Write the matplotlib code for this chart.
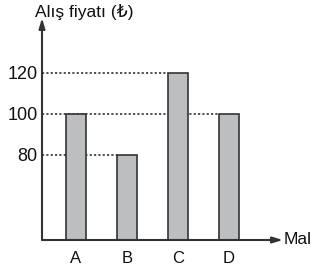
import matplotlib.pyplot as plt

plt.rcParams['font.family'] = ['Liberation Sans', 'DejaVu Sans']

categories = ["A", "B", "C", "D"]
prices = [100, 80, 120, 100]
tick_values = [80, 100, 120]

W, H = 317, 273
fig = plt.figure(figsize=(W / 100, H / 100), dpi=100)

# axes placed in pixel terms: y axis at x=42, baseline at y=240, arrow tips at x=283 / y=18
ax = fig.add_axes([42 / W, (H - 240) / H, (283 - 42) / W, (240 - 18) / H])

xs = list(range(len(categories)))
bar_w = 0.39
ax.bar(xs, prices, width=bar_w, bottom=0, color="#bdbec0",
       edgecolor="#333333", linewidth=1.2, zorder=3)

xmin, xmax = -0.667, 4.06
ax.set_xlim(xmin, xmax)
ax.set_ylim(38.5, 146.8)

# dotted guide lines run from the axis to the left edge of the last bar with that value
for v in tick_values:
    last = max(i for i, p in enumerate(prices) if p == v)
    ax.hlines(v, xmin, last - bar_w / 2, colors="#333333", linestyles=(0, (1.3, 1.3)),
              linewidth=1.2, zorder=1)

for s in ax.spines.values():
    s.set_visible(False)

arrow = dict(arrowstyle="-|>,head_length=0.6,head_width=0.18", color="#333333",
             lw=1.5, shrinkA=0, shrinkB=0)
ax.annotate("", xy=(0, 1), xytext=(0, 0), xycoords="axes fraction", arrowprops=arrow)
ax.annotate("", xy=(1, 0), xytext=(0, 0), xycoords="axes fraction", arrowprops=arrow)

ax.set_yticks(tick_values)
ax.set_yticklabels([str(v) for v in tick_values], fontsize=13, color="#111111")
ax.set_xticks(xs)
ax.set_xticklabels(categories, fontsize=12, color="#111111")
ax.tick_params(axis="y", length=0, pad=3)
ax.tick_params(axis="x", length=0, pad=8)

fig.text(35 / W, 1 - 12 / H, "Alış fiyatı (₺)", fontsize=12.5, va="center", ha="left",
         color="#111111")
fig.text(284 / W, 1 - 240 / H, "Mal", fontsize=12.5, va="center", ha="left",
         color="#111111")

plt.savefig("out.png", dpi=100)
